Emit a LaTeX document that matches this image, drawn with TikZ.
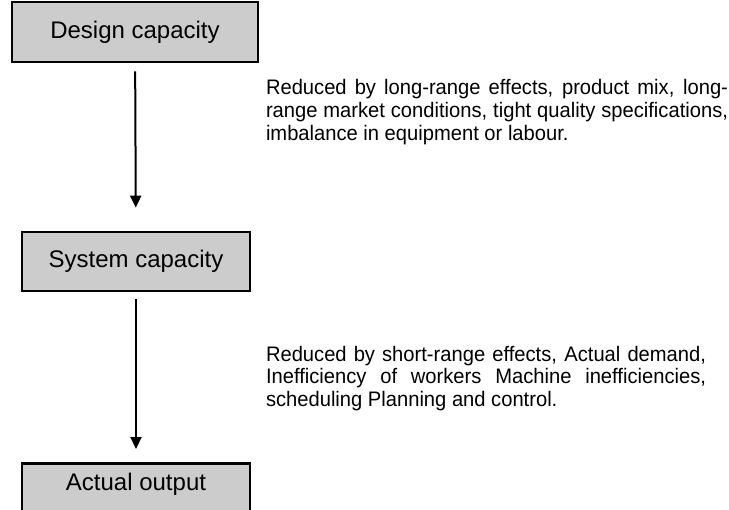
\documentclass[tikz,border=0pt]{standalone}
\usepackage{fontspec}
\setmainfont{Liberation Sans}
\newfontfamily\notefont[FakeStretch=0.96]{Liberation Sans}
\usetikzlibrary{arrows.meta}
\definecolor{boxgray}{gray}{0.8}

\begin{document}
\begin{tikzpicture}[x=1bp, y=-1bp, >={Triangle[width=11bp,length=12bp]}, line width=2bp]
\tikzset{
  box/.style={
    draw, rectangle, fill=boxgray, line width=2.7bp,
    minimum width=228bp, minimum height=59bp,
    font=\fontsize{24bp}{23bp}\selectfont, inner sep=0pt
  },
  note/.style={
    anchor=base west, inner sep=0pt, align=justify,
    font=\notefont\fontsize{21bp}{22.6bp}\selectfont
  }
}
\useasboundingbox (0,0) rectangle (729,510);

% Nodes
\node[box, minimum width=246bp, minimum height=60bp] (design) at (135, 32) {Design capacity};
\node[box] (system) at (136, 261.5) {System capacity};
\node[box, anchor=north, text height=17bp, text depth=33bp, inner ysep=10bp] (actual) at (136, 462) {Actual output};

% Notes beside the arrows
\node[note, text width=462bp] (longrange) at (265, 95) {Reduced by long-range effects, product mix, long-\linebreak range market conditions, tight quality specifications,\linebreak imbalance in equipment or labour.};
\node[note, text width=440bp] (shortrange) at (265, 361) {Reduced by short-range effects, Actual demand,\linebreak Inefficiency of workers Machine inefficiencies,\linebreak scheduling Planning and control.};

% Arrows
\draw[->, shorten <=8bp, shorten >=23bp] (design) -- (system);
\draw[->, shorten <=7bp, shorten >=13bp] (system) -- (actual);
\end{tikzpicture}
\end{document}
